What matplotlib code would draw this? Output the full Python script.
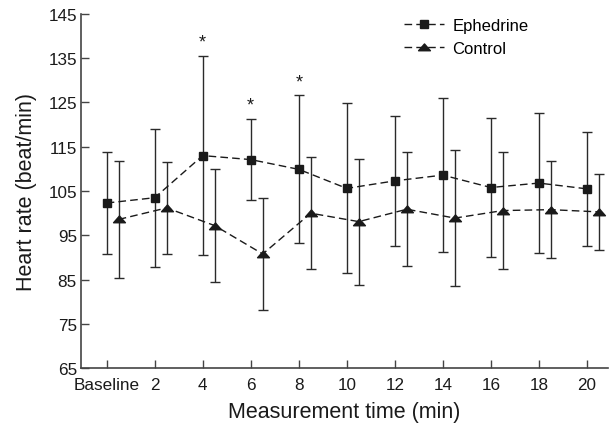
import matplotlib
matplotlib.use("Agg")
import matplotlib.pyplot as plt
import numpy as np
from matplotlib.path import Path

plt.rcParams['font.family'] = ['Liberation Sans', 'DejaVu Sans']

time_labels = ["Baseline", "2", "4", "6", "8", "10", "12", "14", "16", "18", "20"]
ephedrine_mean = [102.3, 103.5, 113.0, 112.1, 109.9, 105.6, 107.3, 108.6, 105.8, 106.8, 105.5]
ephedrine_sd = [11.5, 15.6, 22.5, 9.2, 16.7, 19.2, 14.6, 17.3, 15.6, 15.8, 12.9]
control_mean = [98.6, 101.2, 97.2, 90.8, 100.0, 98.1, 100.9, 98.9, 100.6, 100.8, 100.3]
control_sd = [13.2, 10.3, 12.8, 12.6, 12.6, 14.2, 12.8, 15.4, 13.1, 11.0, 8.6]
significant = [2, 3, 4]  # indices marked with *

fig = plt.figure(figsize=(6.1, 4.35), dpi=100)
ax = fig.add_axes([0.1328, 0.151, 0.8639, 0.815])

x = np.arange(len(time_labels))
offset = 0.25
ecol = '#2a2a2a'

tri = Path([(-1.0, -0.55), (1.0, -0.55), (0.0, 0.6), (-1.0, -0.55)],
           [Path.MOVETO, Path.LINETO, Path.LINETO, Path.CLOSEPOLY])

l1 = ax.errorbar(x, ephedrine_mean, yerr=ephedrine_sd, fmt='none', ecolor=ecol,
                 elinewidth=1.0, capsize=3.5, capthick=1.0, zorder=2)
l2 = ax.errorbar(x + offset, control_mean, yerr=control_sd, fmt='none', ecolor=ecol,
                 elinewidth=1.0, capsize=3.5, capthick=1.0, zorder=2)

h1, = ax.plot(x, ephedrine_mean, color='#1a1a1a', lw=1.0, marker='s', markersize=6,
              label='Ephedrine', zorder=3)
h1.set_dashes([5.5, 3])
h2, = ax.plot(x + offset, control_mean, color='#1a1a1a', lw=1.0, marker=tri, markersize=8.5,
              label='Control', zorder=3)
h2.set_dashes([5.5, 3])

for i in significant:
    ax.text(x[i], ephedrine_mean[i] + ephedrine_sd[i] + 1.2, '*', ha='center', va='bottom',
            fontsize=13, color='#1a1a1a')

ax.set_xlim(-0.535, 10.44)
ax.set_ylim(65, 145)
ax.set_yticks(np.arange(65, 146, 10))
ax.set_xticks(x)
ax.set_xticklabels(time_labels)
ax.tick_params(axis='both', direction='in', length=6, width=1.0, labelsize=12.3,
               colors='#444444', labelcolor='#1a1a1a')
ax.tick_params(axis='x', pad=6)
ax.tick_params(axis='y', pad=3)

for s in ['top', 'right']:
    ax.spines[s].set_visible(False)
for s in ['left', 'bottom']:
    ax.spines[s].set_color('#444444')
    ax.spines[s].set_linewidth(1.2)

ax.set_xlabel('Measurement time (min)', fontsize=15.5, labelpad=7, color='#1a1a1a')
ax.set_ylabel('Heart rate (beat/min)', fontsize=15.5, labelpad=8, color='#1a1a1a')

leg = ax.legend(handles=[h1, h2], loc='upper left', bbox_to_anchor=(0.585, 1.03),
                frameon=False, fontsize=12, handlelength=2.4, handletextpad=0.5,
                labelspacing=0.45)

fig.savefig('out.png', dpi=100)
